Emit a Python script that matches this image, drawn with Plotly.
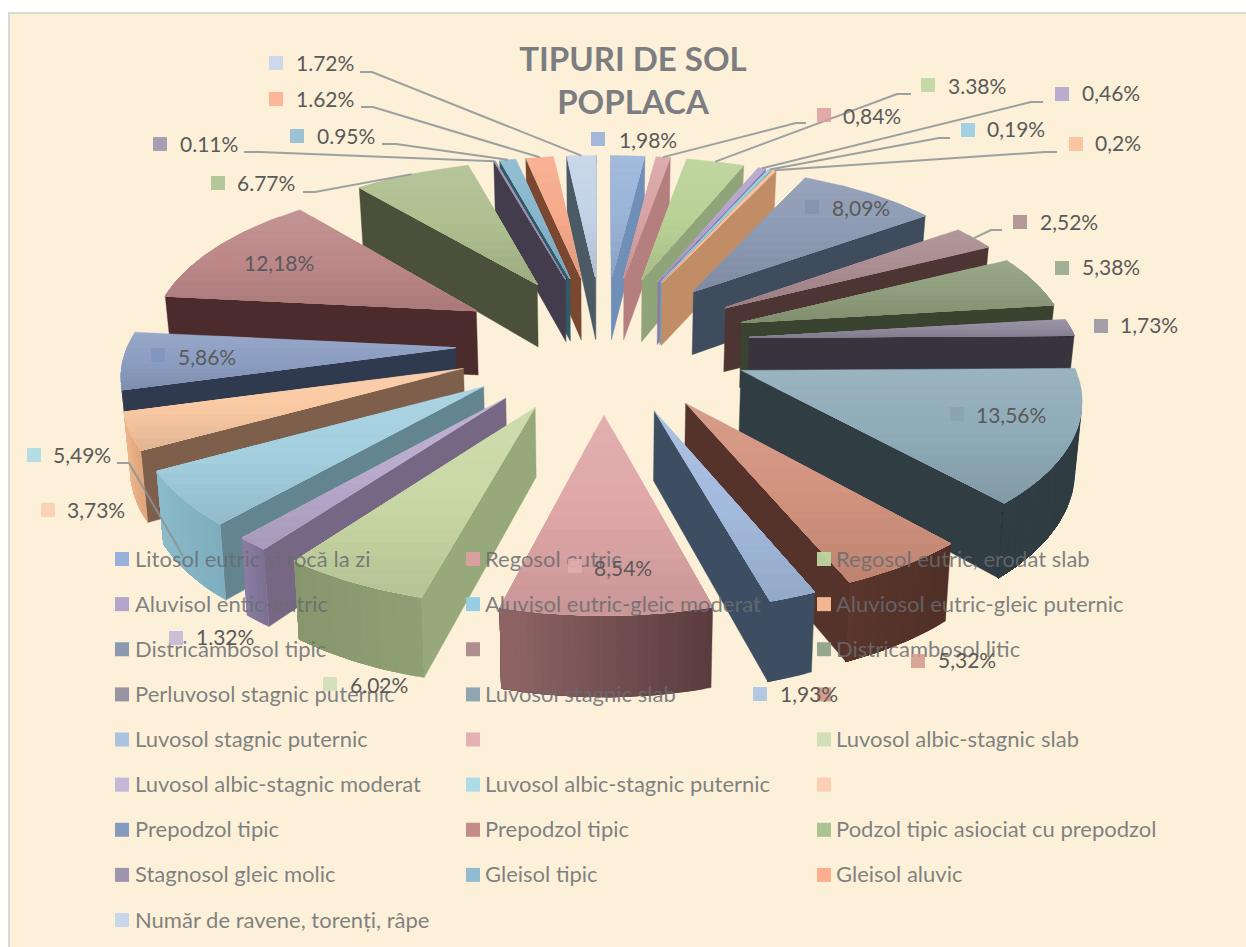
import math
import plotly.graph_objects as go

# ---------- data ----------
legend_names = [
    "Litosol eutric și rocă la zi", "Regosol eutric", "Regosol eutric, erodat slab",
    "Aluvisol entic-eutric", "Aluvisol eutric-gleic moderat", "Aluviosol eutric-gleic puternic",
    "Districambosol tipic", "", "Districambosol litic",
    "Perluvosol stagnic puternic", "Luvosol stagnic slab", "",
    "Luvosol stagnic puternic", "", "Luvosol albic-stagnic slab",
    "Luvosol albic-stagnic moderat", "Luvosol albic-stagnic puternic", "",
    "Prepodzol tipic", "Prepodzol tipic", "Podzol tipic asiociat cu prepodzol",
    "Stagnosol gleic molic", "Gleisol tipic", "Gleisol aluvic",
    "Număr de ravene, torenți, râpe",
]
values = [1.98, 0.84, 3.38, 0.46, 0.19, 0.2, 8.09, 2.52, 5.38, 1.73, 13.56, 5.32, 1.93,
          8.54, 6.02, 1.32, 5.49, 3.73, 5.86, 12.18, 6.77, 0.11, 0.95, 1.62, 1.72]
value_labels = ["1,98%", "0,84%", "3.38%", "0,46%", "0,19%", "0,2%", "8,09%", "2,52%", "5,38%",
                "1,73%", "13,56%", "5,32%", "1,93%", "8,54%", "6.02%", "1.32%", "5,49%", "3,73%",
                "5,86%", "12,18%", "6.77%", "0.11%", "0.95%", "1.62%", "1.72%"]

# ---------- styles ----------
top_colors = ["#9ab3d8", "#d9a3a5", "#bad196", "#b3a3cb", "#93cbe0", "#fbbe98", "#8c9ab3", "#aa8d90",
              "#8f9e7c", "#918c9e", "#8fabb8", "#d2937e", "#a3bbde", "#dfa6a7", "#c9d8a5", "#b9aacd",
              "#a3cfdf", "#fac9a3", "#8c9ec2", "#bd8889", "#aebf8f", "#9a8fb0", "#88b6cd", "#f6aa8b",
              "#c3d3e7"]
# flat radial walls
side_colors = ["#6f8fb8", "#b57f80", "#8fa579", "#8a7ba3", "#6fa0b5", "#c08d66", "#3f4c5d", "#4d3533",
               "#3a4230", "#37343e", "#303d43", "#55332a", "#3e4e62", "#7a5052", "#97a87a", "#766884",
               "#63858f", "#7d5f4c", "#2f3a4f", "#4b2b2c", "#4a503a", "#423c4c", "#2f5a66", "#7a4730",
               "#4c5a66"]
# curved outer walls: colour at the clockwise start and end of the arc
arc_start = ["#6f8fb8", "#b57f80", "#8fa579", "#8a7ba3", "#6fa0b5", "#c08d66", "#3f4c5d", "#4d3533",
             "#3a4230", "#37343e", "#2f3c42", "#4f2f27", "#3e4e62", "#5a3b3d", "#8f9f74", "#7c6f94",
             "#7eaebd", "#e0a67c", "#2f3a4f", "#4b2b2c", "#4a503a", "#423c4c", "#2f5a66", "#7a4730",
             "#4c5a66"]
arc_end = ["#6f8fb8", "#b57f80", "#8fa579", "#8a7ba3", "#6fa0b5", "#c08d66", "#3f4c5d", "#4d3533",
           "#3a4230", "#37343e", "#303d43", "#5a362c", "#3e4e62", "#8f6465", "#87966c", "#8a7da2",
           "#8cbccb", "#eeb98f", "#2f3a4f", "#4b2b2c", "#4a503a", "#423c4c", "#2f5a66", "#7a4730",
           "#4c5a66"]
swatch_colors = ["#94aedb", "#dc9fa1", "#bdd7a0", "#b0a0cd", "#93cde4", "#fdbd97", "#8594ae", "#a98a8e",
                 "#92a488", "#94909f", "#8aa3af", "#d4998c", "#a8c0e2", "#e4aeb0", "#cfdeb5", "#c3b5d8",
                 "#a9dae8", "#fdcdb2", "#8096bf", "#c18686", "#a8c090", "#9b90ac", "#8cb9cf", "#fcab8c",
                 "#c5d6ec"]

# (swatch centre x, y, text left x, text centre y) of each value label
label_pos = [(598, 139, 619, 141), (824, 115, 843, 117), (928, 85, 948, 87), (1062, 94, 1082, 94),
             (968, 130, 987, 130), (1076, 144, 1095, 144), (812, 207, 832, 209), (1020, 222, 1040, 223),
             (1062, 268, 1082, 268), (1101, 326, 1120, 326), (957, 414, 976, 416), (918, 661, 938, 661),
             (760, 694, 780, 695), (575, 566, 594, 569), (330, 684, 350, 686), (176, 638, 196, 638),
             (34, 455, 53, 456), (48, 510, 67, 511), (158, 355, 178, 358), (224, 263, 244, 264),
             (218, 183, 237, 184), (160, 144, 180, 145), (297, 136, 317, 137), (276, 99, 296, 100),
             (276, 63, 296, 64)]
# leader start (x0, x1, y, drop below the rim) per slice index; the other end comes from the slice
leaders = {1: (806, 796, 123, 0), 2: (911, 897, 94, 0), 3: (1043, 1031, 102, 0), 4: (950, 939, 138, 0),
           5: (1057, 1045, 152, 0), 7: (1002, 991, 230, 0), 16: (117, 129, 463, 57), 20: (303, 315, 192, 0),
           21: (244, 260, 152, 0), 22: (382, 396, 144, 0), 23: (361, 373, 107, 0), 24: (360, 372, 72, 0)}

# ---------- projection of the exploded 3D pie ----------
CX, CY, SX, SY, K, H, EXPLODE, TAPER = 603.0, 342.0, 327.0, 153.0, 0.13, 66.0, 0.45, 0.985
TEXT_DY = 2


def project(u, v, low=False):
    s = 1.0 / (1.0 - K * v)
    x = SX * u * s
    y = CY + SY * v * s
    if low:
        return CX + x * TAPER, y + H * s
    return CX + x, y


def rgb_of(col):
    return [int(col[i:i + 2], 16) for i in (1, 3, 5)]


def css(rgb):
    return "rgb(%d,%d,%d)" % tuple(round(max(0, min(255, c))) for c in rgb)


def mix(col, factor):
    rgb = rgb_of(col)
    if factor >= 1:
        rgb = [c + (255 - c) * (factor - 1) for c in rgb]
    else:
        rgb = [c * factor for c in rgb]
    return css(rgb)


def blend(c0, c1, t):
    a, b = rgb_of(c0), rgb_of(c1)
    return css([p + (q - p) * t for p, q in zip(a, b)])


def clip_below(poly, level):
    """Part of a polygon with y >= level."""
    out = []
    for i, p in enumerate(poly):
        q = poly[(i + 1) % len(poly)]
        pin, qin = p[1] >= level, q[1] >= level
        if pin:
            out.append(p)
        if pin != qin:
            t = (level - p[1]) / (q[1] - p[1])
            out.append((p[0] + t * (q[0] - p[0]), level))
    return out


def add_poly(fig, pts, color):
    xs = [p[0] for p in pts] + [pts[0][0]]
    ys = [p[1] for p in pts] + [pts[0][1]]
    fig.add_trace(go.Scatter(x=xs, y=ys, mode="lines", fill="toself", fillcolor=color,
                             line=dict(color=color, width=0.4), hoverinfo="skip", showlegend=False))


def visible(pts):
    area = sum(pts[i][0] * pts[(i + 1) % len(pts)][1] - pts[(i + 1) % len(pts)][0] * pts[i][1]
               for i in range(len(pts)))
    return area < 0


total = sum(values)
slices = []
acc = 0.0
for i, val in enumerate(values):
    a0 = acc / total * 2 * math.pi
    a1 = (acc + val) / total * 2 * math.pi
    mid = (a0 + a1) / 2
    acc += val
    slices.append(dict(i=i, a0=a0, a1=a1, mid=mid,
                       ou=EXPLODE * math.sin(mid), ov=-EXPLODE * math.cos(mid)))


def arc_points(s):
    n = max(2, int((s["a1"] - s["a0"]) / math.radians(1)) + 1)
    return [(s["ou"] + math.sin(s["a0"] + (s["a1"] - s["a0"]) * t / n),
             s["ov"] - math.cos(s["a0"] + (s["a1"] - s["a0"]) * t / n)) for t in range(n + 1)]


fig = go.Figure()
BANDS = 14
ARC_STEPS = 30

for s in sorted(slices, key=lambda q: q["ov"]):
    idx = s["i"]
    top = top_colors[idx]
    arc = arc_points(s)
    apex = (s["ou"], s["ov"])
    # radial walls
    for a, b in [(apex, arc[0]), (arc[-1], apex)]:
        q = [project(*a), project(*b), project(*b, low=True), project(*a, low=True)]
        if visible(q):
            add_poly(fig, q, side_colors[idx])
    # outer curved wall: only its visible run, overpainted progressively so no seams show
    run = []
    for k in range(len(arc) - 1):
        q = [project(*arc[k]), project(*arc[k + 1]), project(*arc[k + 1], low=True), project(*arc[k], low=True)]
        if visible(q):
            if not run:
                run.append(arc[k])
            run.append(arc[k + 1])
    if len(run) >= 2:
        steps = min(ARC_STEPS, len(run) - 1)
        for st in range(steps):
            sub = run[st * (len(run) - 1) // steps:]
            outline = [project(*p) for p in sub] + [project(*p, low=True) for p in reversed(sub)]
            add_poly(fig, outline, blend(arc_start[idx], arc_end[idx], (st + 0.5) / steps))
    # top face with a vertical gradient, overpainted progressively
    poly = [project(*apex)] + [project(*p) for p in arc]
    ymin, ymax = min(p[1] for p in poly), max(p[1] for p in poly)
    for b in range(BANDS):
        part = clip_below(poly, ymin + (ymax - ymin) * b / BANDS)
        if len(part) >= 3:
            add_poly(fig, part, mix(top, 1.10 - 0.2 * (b + 0.5) / BANDS))

# leader lines
for i, (x0, x1, y, drop) in leaders.items():
    s = slices[i]
    end = project(s["ou"] + math.sin(s["mid"]), s["ov"] - math.cos(s["mid"]))
    fig.add_trace(go.Scatter(x=[x0, x1, end[0]], y=[y, y, end[1] + drop], mode="lines",
                             line=dict(color="rgba(140,146,152,0.85)", width=2),
                             hoverinfo="skip", showlegend=False))

# legend (drawn on top of the pie, as in the reference)
COLS = [(122, 135), (473, 485), (824, 836)]
ROW0, ROWSTEP = 559.0, 45.13
for i, name in enumerate(legend_names):
    r, c = divmod(i, 3)
    fig.add_trace(go.Scatter(x=[COLS[c][0]], y=[ROW0 + r * ROWSTEP], mode="markers",
                             marker=dict(symbol="square", size=14, color=swatch_colors[i]),
                             opacity=0.95, hoverinfo="skip", showlegend=False))
    if name:
        fig.add_trace(go.Scatter(x=[COLS[c][1]], y=[ROW0 + r * ROWSTEP + TEXT_DY], mode="text", text=[name],
                                 textposition="middle right",
                                 textfont=dict(family="Lato", size=22, color="rgba(105,108,112,0.85)"),
                                 hoverinfo="skip", showlegend=False))

# value labels
for i, lab in enumerate(value_labels):
    sx, sy, tx, ty = label_pos[i]
    fig.add_trace(go.Scatter(x=[sx], y=[sy], mode="markers",
                             marker=dict(symbol="square", size=14, color=swatch_colors[i]),
                             opacity=0.85, hoverinfo="skip", showlegend=False))
    fig.add_trace(go.Scatter(x=[tx], y=[ty + TEXT_DY], mode="text", text=[lab], textposition="middle right",
                             textfont=dict(family="Lato", size=21, color="#5a5a5a"),
                             hoverinfo="skip", showlegend=False))

fig.update_layout(
    width=1246, height=947, margin=dict(l=0, r=0, t=0, b=0), autosize=False,
    paper_bgcolor="white", plot_bgcolor="rgba(0,0,0,0)",
    xaxis=dict(range=[0, 1246], visible=False, fixedrange=True),
    yaxis=dict(range=[947, 0], visible=False, fixedrange=True),
    title=dict(text="<b>TIPURI DE SOL<br>POPLACA</b>", x=633 / 1246, xanchor="center",
               y=1 - 71 / 947, yanchor="top",
               font=dict(family="Lato", size=33, color="#7b7d80")),
    shapes=[dict(type="rect", layer="below", x0=9, y0=13, x1=1250, y1=951,
                 fillcolor="#fcf0d8", line=dict(color="#d9d9d9", width=2))],
    showlegend=False,
)
fig.write_html("out.html", config={"displayModeBar": False},
               post_script="document.body.style.margin='0';")
